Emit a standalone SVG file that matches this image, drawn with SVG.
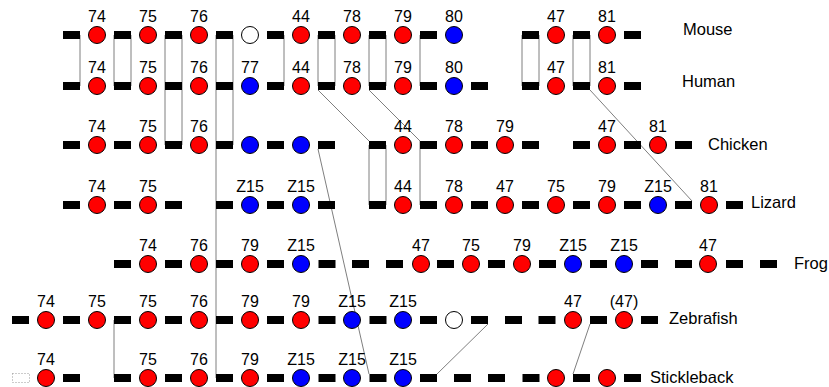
<svg xmlns="http://www.w3.org/2000/svg" width="829" height="387" viewBox="0 0 829 387">
<style>
.bg{fill:#fff}
.b{fill:#000}
.r{fill:#ff0000;stroke:#000;stroke-width:1}
.u{fill:#0000ff;stroke:#000;stroke-width:1}
.w{fill:#fff;stroke:#000;stroke-width:1}
.n{font-family:"Liberation Sans",Arial,sans-serif;font-size:16px;text-anchor:middle;fill:#000}
.s{font-family:"Liberation Sans",Arial,sans-serif;font-size:16.5px;fill:#000}
.c line{stroke:#7f7f7f;stroke-width:1}
.dot{fill:none;stroke:#999;stroke-width:1;stroke-dasharray:1 2}
</style>
<defs>
<rect id="bar" x="-8.5" y="-4" width="17" height="8"/>
</defs>
<rect class="bg" width="829" height="387"/>
<g id="connectors" class="c">
<line x1="80" y1="35" x2="80" y2="86"/>
<line x1="114" y1="35" x2="114" y2="86"/>
<line x1="131" y1="35" x2="131" y2="86"/>
<line x1="165" y1="35" x2="165" y2="145"/>
<line x1="182" y1="35" x2="182" y2="145"/>
<line x1="216" y1="35" x2="216" y2="378"/>
<line x1="233" y1="35" x2="233" y2="145"/>
<line x1="284" y1="35" x2="284" y2="86"/>
<line x1="318" y1="35" x2="318" y2="86"/>
<line x1="335" y1="35" x2="335" y2="86"/>
<line x1="369" y1="35" x2="369" y2="86"/>
<line x1="386" y1="35" x2="386" y2="86"/>
<line x1="420" y1="35" x2="420" y2="86"/>
<line x1="522" y1="35" x2="522" y2="86"/>
<line x1="539" y1="35" x2="539" y2="86"/>
<line x1="573" y1="35" x2="573" y2="86"/>
<line x1="590" y1="35" x2="590" y2="86"/>
<line x1="318" y1="90" x2="369" y2="141"/>
<line x1="369" y1="145" x2="369" y2="205"/>
<line x1="386" y1="145" x2="386" y2="205"/>
<line x1="369" y1="90" x2="420" y2="141"/>
<line x1="420" y1="141" x2="420" y2="205"/>
<line x1="590" y1="90" x2="692" y2="201"/>
<line x1="318" y1="149" x2="369" y2="374"/>
<line x1="488" y1="324" x2="437" y2="374"/>
<line x1="590" y1="324" x2="573" y2="374"/>
<line x1="114" y1="320" x2="114" y2="378"/>
</g>

<g id="mouse">
<g class="b">
<use href="#bar" x="71.5" y="35"/><use href="#bar" x="122.5" y="35"/><use href="#bar" x="173.5" y="35"/><use href="#bar" x="224.5" y="35"/><use href="#bar" x="275.5" y="35"/><use href="#bar" x="326.5" y="35"/><use href="#bar" x="377.5" y="35"/><use href="#bar" x="428.5" y="35"/><use href="#bar" x="530.5" y="35"/><use href="#bar" x="581.5" y="35"/><use href="#bar" x="632.5" y="35"/>
</g>
<g id="mouse-74"><circle class="r" cx="97" cy="35" r="8.5"/><text class="n" x="97" y="22">74</text></g>
<g id="mouse-75"><circle class="r" cx="148" cy="35" r="8.5"/><text class="n" x="148" y="22">75</text></g>
<g id="mouse-76"><circle class="r" cx="199" cy="35" r="8.5"/><text class="n" x="199" y="22">76</text></g>
<g id="mouse-empty"><circle class="w" cx="250" cy="35" r="8.5"/></g>
<g id="mouse-44"><circle class="r" cx="301" cy="35" r="8.5"/><text class="n" x="301" y="22">44</text></g>
<g id="mouse-78"><circle class="r" cx="352" cy="35" r="8.5"/><text class="n" x="352" y="22">78</text></g>
<g id="mouse-79"><circle class="r" cx="403" cy="35" r="8.5"/><text class="n" x="403" y="22">79</text></g>
<g id="mouse-80"><circle class="u" cx="454" cy="35" r="8.5"/><text class="n" x="454" y="22">80</text></g>
<g id="mouse-47"><circle class="r" cx="556" cy="35" r="8.5"/><text class="n" x="556" y="22">47</text></g>
<g id="mouse-81"><circle class="r" cx="607" cy="35" r="8.5"/><text class="n" x="607" y="22">81</text></g>
<text class="s" x="683" y="35">Mouse</text>
</g>

<g id="human">
<g class="b">
<use href="#bar" x="71.5" y="86"/><use href="#bar" x="122.5" y="86"/><use href="#bar" x="173.5" y="86"/><use href="#bar" x="224.5" y="86"/><use href="#bar" x="275.5" y="86"/><use href="#bar" x="326.5" y="86"/><use href="#bar" x="377.5" y="86"/><use href="#bar" x="428.5" y="86"/><use href="#bar" x="479.5" y="86"/><use href="#bar" x="530.5" y="86"/><use href="#bar" x="581.5" y="86"/><use href="#bar" x="632.5" y="86"/>
</g>
<g id="human-74"><circle class="r" cx="97" cy="86" r="8.5"/><text class="n" x="97" y="73">74</text></g>
<g id="human-75"><circle class="r" cx="148" cy="86" r="8.5"/><text class="n" x="148" y="73">75</text></g>
<g id="human-76"><circle class="r" cx="199" cy="86" r="8.5"/><text class="n" x="199" y="73">76</text></g>
<g id="human-77"><circle class="u" cx="250" cy="86" r="8.5"/><text class="n" x="250" y="73">77</text></g>
<g id="human-44"><circle class="r" cx="301" cy="86" r="8.5"/><text class="n" x="301" y="73">44</text></g>
<g id="human-78"><circle class="r" cx="352" cy="86" r="8.5"/><text class="n" x="352" y="73">78</text></g>
<g id="human-79"><circle class="r" cx="403" cy="86" r="8.5"/><text class="n" x="403" y="73">79</text></g>
<g id="human-80"><circle class="u" cx="454" cy="86" r="8.5"/><text class="n" x="454" y="73">80</text></g>
<g id="human-47"><circle class="r" cx="556" cy="86" r="8.5"/><text class="n" x="556" y="73">47</text></g>
<g id="human-81"><circle class="r" cx="607" cy="86" r="8.5"/><text class="n" x="607" y="73">81</text></g>
<text class="s" x="682" y="87">Human</text>
</g>

<g id="chicken">
<g class="b">
<use href="#bar" x="71.5" y="145"/><use href="#bar" x="122.5" y="145"/><use href="#bar" x="173.5" y="145"/><use href="#bar" x="224.5" y="145"/><use href="#bar" x="275.5" y="145"/><use href="#bar" x="326.5" y="145"/><use href="#bar" x="377.5" y="145"/><use href="#bar" x="428.5" y="145"/><use href="#bar" x="479.5" y="145"/><use href="#bar" x="530.5" y="145"/><use href="#bar" x="581.5" y="145"/><use href="#bar" x="632.5" y="145"/><use href="#bar" x="683.5" y="145"/>
</g>
<g id="chicken-74"><circle class="r" cx="97" cy="145" r="8.5"/><text class="n" x="97" y="132">74</text></g>
<g id="chicken-75"><circle class="r" cx="148" cy="145" r="8.5"/><text class="n" x="148" y="132">75</text></g>
<g id="chicken-76"><circle class="r" cx="199" cy="145" r="8.5"/><text class="n" x="199" y="132">76</text></g>
<g id="chicken-b1"><circle class="u" cx="250" cy="145" r="8.5"/></g>
<g id="chicken-b2"><circle class="u" cx="301" cy="145" r="8.5"/></g>
<g id="chicken-44"><circle class="r" cx="403" cy="145" r="8.5"/><text class="n" x="403" y="132">44</text></g>
<g id="chicken-78"><circle class="r" cx="454" cy="145" r="8.5"/><text class="n" x="454" y="132">78</text></g>
<g id="chicken-79"><circle class="r" cx="505" cy="145" r="8.5"/><text class="n" x="505" y="132">79</text></g>
<g id="chicken-47"><circle class="r" cx="607" cy="145" r="8.5"/><text class="n" x="607" y="132">47</text></g>
<g id="chicken-81"><circle class="r" cx="658" cy="145" r="8.5"/><text class="n" x="658" y="132">81</text></g>
<text class="s" x="708" y="150">Chicken</text>
</g>

<g id="lizard">
<g class="b">
<use href="#bar" x="71.5" y="205"/><use href="#bar" x="122.5" y="205"/><use href="#bar" x="173.5" y="205"/><use href="#bar" x="224.5" y="205"/><use href="#bar" x="275.5" y="205"/><use href="#bar" x="326.5" y="205"/><use href="#bar" x="377.5" y="205"/><use href="#bar" x="428.5" y="205"/><use href="#bar" x="479.5" y="205"/><use href="#bar" x="530.5" y="205"/><use href="#bar" x="581.5" y="205"/><use href="#bar" x="632.5" y="205"/><use href="#bar" x="683.5" y="205"/><use href="#bar" x="734.5" y="205"/>
</g>
<g id="lizard-74"><circle class="r" cx="97" cy="205" r="8.5"/><text class="n" x="97" y="192">74</text></g>
<g id="lizard-75a"><circle class="r" cx="148" cy="205" r="8.5"/><text class="n" x="148" y="192">75</text></g>
<g id="lizard-z15a"><circle class="u" cx="250" cy="205" r="8.5"/><text class="n" x="250" y="192">Z15</text></g>
<g id="lizard-z15b"><circle class="u" cx="301" cy="205" r="8.5"/><text class="n" x="301" y="192">Z15</text></g>
<g id="lizard-44"><circle class="r" cx="403" cy="205" r="8.5"/><text class="n" x="403" y="192">44</text></g>
<g id="lizard-78"><circle class="r" cx="454" cy="205" r="8.5"/><text class="n" x="454" y="192">78</text></g>
<g id="lizard-47"><circle class="r" cx="505" cy="205" r="8.5"/><text class="n" x="505" y="192">47</text></g>
<g id="lizard-75b"><circle class="r" cx="556" cy="205" r="8.5"/><text class="n" x="556" y="192">75</text></g>
<g id="lizard-79"><circle class="r" cx="607" cy="205" r="8.5"/><text class="n" x="607" y="192">79</text></g>
<g id="lizard-z15c"><circle class="u" cx="658" cy="205" r="8.5"/><text class="n" x="658" y="192">Z15</text></g>
<g id="lizard-81"><circle class="r" cx="709" cy="205" r="8.5"/><text class="n" x="709" y="192">81</text></g>
<text class="s" x="751" y="208">Lizard</text>
</g>

<g id="frog">
<g class="b">
<use href="#bar" x="122.5" y="264"/><use href="#bar" x="173.5" y="264"/><use href="#bar" x="224.5" y="264"/><use href="#bar" x="275.5" y="264"/><use href="#bar" x="327" y="264"/><use href="#bar" x="360.5" y="264"/><use href="#bar" x="394.5" y="264"/><use href="#bar" x="445.5" y="264"/><use href="#bar" x="496.5" y="264"/><use href="#bar" x="547.5" y="264"/><use href="#bar" x="598.5" y="264"/><use href="#bar" x="649.5" y="264"/><use href="#bar" x="683.5" y="264"/><use href="#bar" x="734.5" y="264"/><use href="#bar" x="768.5" y="264"/>
</g>
<g id="frog-74"><circle class="r" cx="148" cy="264" r="8.5"/><text class="n" x="148" y="251">74</text></g>
<g id="frog-76"><circle class="r" cx="199" cy="264" r="8.5"/><text class="n" x="199" y="251">76</text></g>
<g id="frog-79a"><circle class="r" cx="250" cy="264" r="8.5"/><text class="n" x="250" y="251">79</text></g>
<g id="frog-z15a"><circle class="u" cx="301" cy="264" r="8.5"/><text class="n" x="301" y="251">Z15</text></g>
<g id="frog-47a"><circle class="r" cx="421" cy="264" r="8.5"/><text class="n" x="421" y="251">47</text></g>
<g id="frog-75"><circle class="r" cx="471" cy="264" r="8.5"/><text class="n" x="471" y="251">75</text></g>
<g id="frog-79b"><circle class="r" cx="522" cy="264" r="8.5"/><text class="n" x="522" y="251">79</text></g>
<g id="frog-z15b"><circle class="u" cx="573" cy="264" r="8.5"/><text class="n" x="573" y="251">Z15</text></g>
<g id="frog-z15c"><circle class="u" cx="624" cy="264" r="8.5"/><text class="n" x="624" y="251">Z15</text></g>
<g id="frog-47b"><circle class="r" cx="708" cy="264" r="8.5"/><text class="n" x="708" y="251">47</text></g>
<text class="s" x="794" y="269">Frog</text>
</g>

<g id="zebrafish">
<g class="b">
<use href="#bar" x="20.5" y="320"/><use href="#bar" x="71.5" y="320"/><use href="#bar" x="122.5" y="320"/><use href="#bar" x="173.5" y="320"/><use href="#bar" x="224.5" y="320"/><use href="#bar" x="275.5" y="320"/><use href="#bar" x="327" y="320"/><use href="#bar" x="378" y="320"/><use href="#bar" x="428.5" y="320"/><use href="#bar" x="479.5" y="320"/><use href="#bar" x="513.5" y="320"/><use href="#bar" x="547" y="320"/><use href="#bar" x="598.5" y="320"/><use href="#bar" x="649.5" y="320"/>
</g>
<g id="zebrafish-74"><circle class="r" cx="46" cy="320" r="8.5"/><text class="n" x="46" y="307">74</text></g>
<g id="zebrafish-75a"><circle class="r" cx="97" cy="320" r="8.5"/><text class="n" x="97" y="307">75</text></g>
<g id="zebrafish-75b"><circle class="r" cx="148" cy="320" r="8.5"/><text class="n" x="148" y="307">75</text></g>
<g id="zebrafish-76"><circle class="r" cx="199" cy="320" r="8.5"/><text class="n" x="199" y="307">76</text></g>
<g id="zebrafish-79a"><circle class="r" cx="250" cy="320" r="8.5"/><text class="n" x="250" y="307">79</text></g>
<g id="zebrafish-79b"><circle class="r" cx="301" cy="320" r="8.5"/><text class="n" x="301" y="307">79</text></g>
<g id="zebrafish-z15a"><circle class="u" cx="352" cy="320" r="8.5"/><text class="n" x="352" y="307">Z15</text></g>
<g id="zebrafish-z15b"><circle class="u" cx="403" cy="320" r="8.5"/><text class="n" x="403" y="307">Z15</text></g>
<g id="zebrafish-empty"><circle class="w" cx="454" cy="320" r="8.5"/></g>
<g id="zebrafish-47"><circle class="r" cx="573" cy="320" r="8.5"/><text class="n" x="573" y="307">47</text></g>
<g id="zebrafish-47p"><circle class="r" cx="624" cy="320" r="8.5"/><text class="n" x="624" y="307">(47)</text></g>
<text class="s" x="669" y="324">Zebrafish</text>
</g>

<g id="stickleback">
<rect class="dot" x="12.5" y="373.5" width="17" height="9"/>
<g class="b">
<use href="#bar" x="71.5" y="378"/><use href="#bar" x="122.5" y="378"/><use href="#bar" x="173.5" y="378"/><use href="#bar" x="224.5" y="378"/><use href="#bar" x="275.5" y="378"/><use href="#bar" x="327" y="378"/><use href="#bar" x="378" y="378"/><use href="#bar" x="428.5" y="378"/><use href="#bar" x="462.5" y="378"/><use href="#bar" x="496.5" y="378"/><use href="#bar" x="531" y="378"/><use href="#bar" x="581.5" y="378"/><use href="#bar" x="632.5" y="378"/>
</g>
<g id="stickleback-74"><circle class="r" cx="46" cy="378" r="8.5"/><text class="n" x="46" y="365">74</text></g>
<g id="stickleback-75"><circle class="r" cx="148" cy="378" r="8.5"/><text class="n" x="148" y="365">75</text></g>
<g id="stickleback-76"><circle class="r" cx="199" cy="378" r="8.5"/><text class="n" x="199" y="365">76</text></g>
<g id="stickleback-79"><circle class="r" cx="250" cy="378" r="8.5"/><text class="n" x="250" y="365">79</text></g>
<g id="stickleback-z15a"><circle class="u" cx="301" cy="378" r="8.5"/><text class="n" x="301" y="365">Z15</text></g>
<g id="stickleback-z15b"><circle class="u" cx="352" cy="378" r="8.5"/><text class="n" x="352" y="365">Z15</text></g>
<g id="stickleback-z15c"><circle class="u" cx="403" cy="378" r="8.5"/><text class="n" x="403" y="365">Z15</text></g>
<g id="stickleback-r1"><circle class="r" cx="556" cy="378" r="8.5"/></g>
<g id="stickleback-r2"><circle class="r" cx="607" cy="378" r="8.5"/></g>
<text class="s" x="650" y="383">Stickleback</text>
</g>
</svg>
